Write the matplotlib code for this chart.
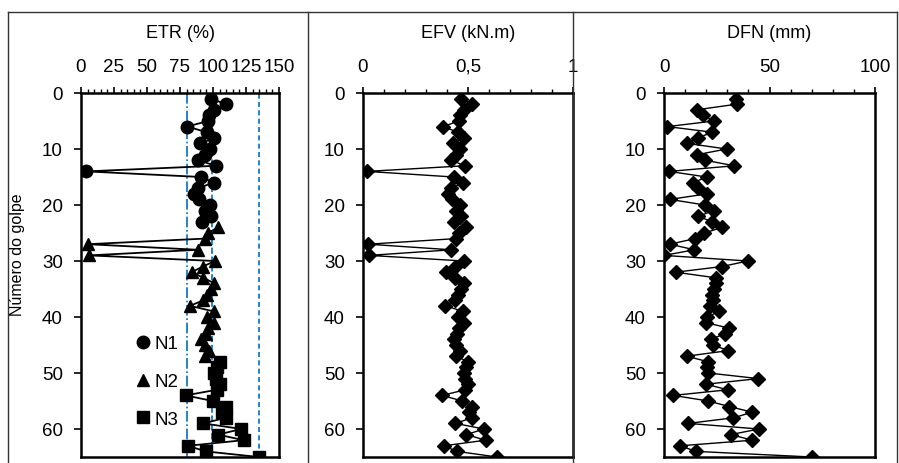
import matplotlib.pyplot as plt
from matplotlib.lines import Line2D
from matplotlib.ticker import MultipleLocator

plt.rcParams['font.family'] = ['Liberation Sans', 'DejaVu Sans']

# ETR (%) por golpe, separado pelos trechos N1, N2, N3
golpes_n1 = list(range(1, 24))
etr_n1 = [98.7, 109.5, 101.1, 97.0, 96.2, 80.4, 95.4, 101.1, 90.5, 97.7,
          93.7, 88.8, 102.1, 4.0, 91.1, 100.4, 88.8, 85.4, 89.7, 97.7,
          93.7, 98.7, 91.4]
golpes_n2 = list(range(24, 48))
etr_n2 = [103.8, 96.2, 93.7, 5.1, 88.8, 6.1, 101.5, 92.2, 83.8, 92.8,
          101.1, 98.7, 95.4, 92.8, 82.7, 100.4, 95.4, 101.1, 96.2, 94.5,
          91.1, 93.7, 97.0, 93.7]
golpes_n3 = list(range(48, 66))
etr_n3 = [105.5, 103.2, 101.1, 102.1, 105.5, 102.7, 79.3, 99.8, 109.5, 106.5,
          109.5, 92.8, 121.5, 103.8, 123.2, 81.0, 94.5, 134.6]

# EFV (kN.m) e DFN (mm), golpes 1 a 65
golpes = list(range(1, 66))
efv = [0.468, 0.519, 0.479, 0.460, 0.456, 0.381, 0.452, 0.479, 0.429, 0.463,
       0.444, 0.421, 0.484, 0.019, 0.432, 0.476, 0.421, 0.405, 0.425, 0.463,
       0.444, 0.468, 0.433, 0.492, 0.456, 0.444, 0.024, 0.421, 0.029, 0.481,
       0.437, 0.397, 0.440, 0.479, 0.468, 0.452, 0.440, 0.392, 0.476, 0.452,
       0.479, 0.456, 0.448, 0.432, 0.444, 0.460, 0.444, 0.500, 0.489, 0.479,
       0.484, 0.500, 0.487, 0.376, 0.473, 0.519, 0.505, 0.519, 0.440, 0.576,
       0.492, 0.584, 0.384, 0.448, 0.638]
dfn = [34.1, 34.4, 15.5, 18.6, 23.7, 1.6, 22.9, 16.3, 11.1, 29.7,
       15.8, 19.4, 33.3, 2.4, 20.2, 13.9, 16.3, 20.5, 2.8, 19.4,
       23.7, 16.3, 22.6, 27.6, 19.1, 14.7, 2.8, 14.4, 0.0, 39.7,
       27.3, 5.5, 24.6, 24.6, 23.7, 22.6, 23.4, 21.8, 26.2, 20.5,
       19.7, 31.0, 28.9, 22.1, 23.1, 30.5, 10.7, 21.0, 20.2, 21.0,
       44.7, 19.9, 30.2, 4.4, 21.0, 31.0, 41.9, 32.9, 11.5, 45.0,
       31.6, 41.9, 7.6, 15.2, 70.0]

etr_refs = [80, 99, 135]
etr_ref_styles = ['-.', '--', (0, (3, 2))]

W, H = 899, 464
fig = plt.figure(figsize=(W / 100, H / 100), dpi=100)


def px_axes(left, right, top=94, bottom=458):
    return fig.add_axes([left / W, 1 - bottom / H, (right - left) / W, (bottom - top) / H])


def style_axis(ax, xmax, major, minor, fmt=None):
    ax.set_xlim(0, xmax)
    ax.set_ylim(65, 0)
    ax.xaxis.tick_top()
    ax.xaxis.set_major_locator(MultipleLocator(major))
    ax.xaxis.set_minor_locator(MultipleLocator(minor))
    if fmt:
        ax.xaxis.set_major_formatter(fmt)
    ax.yaxis.set_major_locator(MultipleLocator(10))
    ax.tick_params(axis='x', which='major', direction='out', length=4, width=1.2, pad=9, labelsize=13.5)
    ax.tick_params(axis='x', which='minor', direction='out', length=3, width=1.0)
    ax.tick_params(axis='y', which='major', direction='out', length=5, width=1.2, pad=8, labelsize=13.5)
    for s in ax.spines.values():
        s.set_linewidth(1.8)


ax1 = px_axes(81, 279)
ax2 = px_axes(363, 573)
ax3 = px_axes(664, 875)

# ETR
for xr, ls in zip(etr_refs, etr_ref_styles):
    ax1.axvline(xr, color='#0070C0', linestyle=ls, linewidth=1.2, zorder=1)
ax1.plot(etr_n1, golpes_n1, color='black', marker='o', markersize=9, linewidth=1.3, zorder=3)
ax1.plot(etr_n2, golpes_n2, color='black', marker='^', markersize=9, linewidth=1.3, zorder=3)
ax1.plot(etr_n3, golpes_n3, color='black', marker='s', markersize=8.5, linewidth=1.3, zorder=3)
style_axis(ax1, 150, 25, 5)
handles = [Line2D([], [], color='black', marker=m, linestyle='none', markersize=ms)
           for m, ms in zip(['o', '^', 's'], [9, 9, 8.5])]
ax1.legend(handles, ['N1', 'N2', 'N3'], loc='upper left', bbox_to_anchor=(0.24, 0.355),
           frameon=False, fontsize=13.5, handlelength=0.7, handletextpad=0.3,
           labelspacing=1.1, borderaxespad=0)

# EFV
ax2.plot(efv, golpes, color='black', marker='D', markersize=7, linewidth=1.0, zorder=3)
style_axis(ax2, 1, 0.5, 0.1, fmt=lambda v, p: f"{v:g}".replace('.', ','))

# DFN
ax3.plot(dfn, golpes, color='black', marker='D', markersize=7, linewidth=1.0, zorder=3)
style_axis(ax3, 100, 50, 10)

# titles and y label
for ax, title in zip([ax1, ax2, ax3], ['ETR (%)', 'EFV (kN.m)', 'DFN (mm)']):
    pos = ax.get_position()
    fig.text((pos.x0 + pos.x1) / 2, 1 - 33 / H, title, ha='center', va='center', fontsize=13)
fig.text(18 / W, 1 - 255 / H, 'Número do golpe', rotation=90, ha='center', va='center', fontsize=11.5)

# outer frame and panel dividers
frame = dict(color='#333333', linewidth=1.0, transform=fig.transFigure)
fig.add_artist(Line2D([8 / W, 897 / W], [1 - 13 / H, 1 - 13 / H], **frame))
for xp in [8, 308, 573, 897]:
    fig.add_artist(Line2D([xp / W, xp / W], [0, 1 - 13 / H], **frame))

fig.savefig('out.png', dpi=100)
